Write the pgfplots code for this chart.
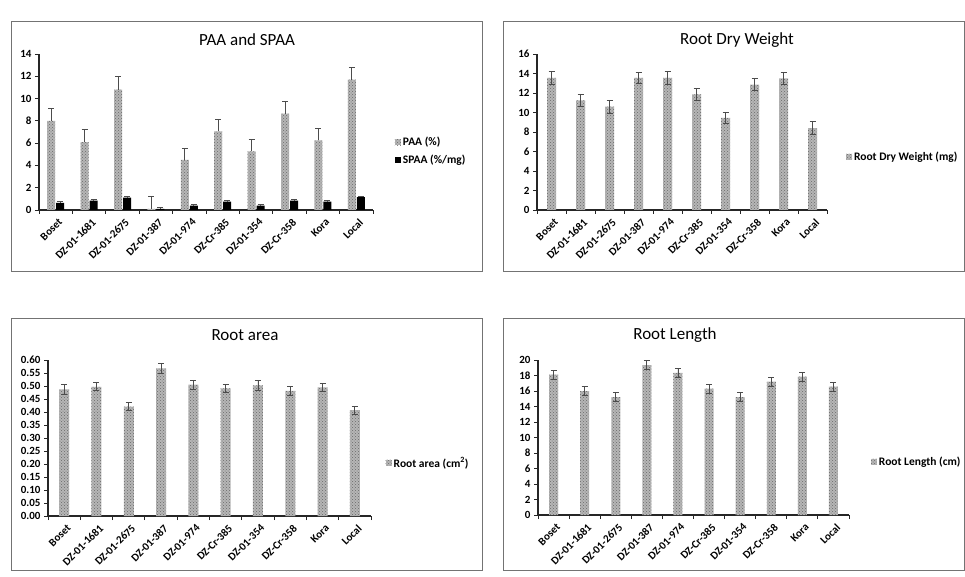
\documentclass[border=0pt]{standalone}
\usepackage{pgfplots}
\pgfplotsset{compat=1.18}
\usepackage{fontspec}
\setmainfont{Carlito}
\usetikzlibrary{patterns}
\definecolor{barg}{RGB}{182,182,182}
\definecolor{dotg}{RGB}{105,105,105}
\pgfplotsset{
  panel/.style={
    scale only axis,
    ymin=0,
    xmin=-0.5, xmax=9.5,
    axis x line*=bottom, axis y line*=left,
    axis line style={line width=1.2pt, black!85},
    tick align=outside,
    tick style={line width=0.9pt, black!85},
    major tick length=4pt,
    xtick={-0.5,0.5,...,9.5},
    xticklabels={},
    extra x ticks={0,1,...,9},
    extra x tick labels={Boset,DZ-01-1681,DZ-01-2675,DZ-01-387,DZ-01-974,DZ-Cr-385,DZ-01-354,DZ-Cr-358,Kora,Local},
    extra x tick style={tick style={draw=none}},
    x tick label style={rotate=45, anchor=north east, inner sep=1pt, yshift=-3pt},
    ticklabel style={font=\bfseries\fontsize{11}{12}\selectfont},
    /pgf/number format/assume math mode=true,
    ytick pos=left,
    legend style={draw=none, fill=none, font=\bfseries\fontsize{11.5}{13}\selectfont, anchor=west, cells={anchor=west}, row sep=4pt, inner sep=0pt},
  },
  sqlegend/.style={legend image code/.code={\fill[##1] (0pt,-3pt) rectangle (6pt,3pt);}},
  texbar/.style={fill=barg, draw=none, postaction={pattern=crosshatch dots, pattern color=dotg}},
  ebars/.style={error bars/.cd, y dir=#1, y explicit,
    error bar style={line width=0.9pt, black!70},
    error mark options={rotate=90, mark size=3pt, line width=0.9pt, black!70}},
}
\begin{document}
\begin{tikzpicture}[x=1pt,y=1pt]
\useasboundingbox (0,0) rectangle (965,576);
\fill[white] (0,0) rectangle (965,576);
\draw[black!55, line width=1pt] (11,304) rectangle (482,554);
\draw[black!55, line width=1pt] (503,304) rectangle (964.5,554);
\draw[black!55, line width=1pt] (11,6) rectangle (482,258);
\draw[black!55, line width=1pt] (503,6) rectangle (964.5,258);
\node[font=\fontsize{17}{20}\selectfont] at (247,536) {PAA and SPAA};
\node[font=\fontsize{17}{20}\selectfont] at (737,536) {Root Dry Weight};
\node[font=\fontsize{17}{20}\selectfont] at (245,241) {Root area};
\node[font=\fontsize{17}{20}\selectfont] at (675,241) {Root Length};

% Panel 1
\begin{axis}[panel, at={(39pt,366pt)}, anchor=south west, width=334pt, height=156pt,
  ymax=14, ytick={0,2,...,14}, ybar=1pt, bar width=8pt, sqlegend,
  legend style={at={(axis description cs:1.065,0.378)}}]
\addplot[texbar, ebars=plus] coordinates {
 (0,8.0) +- (0,1.1) (1,6.1) +- (0,1.1) (2,10.8) +- (0,1.15) (3,0.1) +- (0,1.15)
 (4,4.5) +- (0,1.05) (5,7.05) +- (0,1.1) (6,5.25) +- (0,1.05) (7,8.65) +- (0,1.1)
 (8,6.25) +- (0,1.1) (9,11.7) +- (0,1.1)};
\addplot[fill=black, draw=none, ebars=plus] coordinates {
 (0,0.65) +- (0,0.1) (1,0.85) +- (0,0.1) (2,1.1) +- (0,0.1) (3,0.1) +- (0,0.1)
 (4,0.4) +- (0,0.1) (5,0.75) +- (0,0.1) (6,0.4) +- (0,0.1) (7,0.85) +- (0,0.1)
 (8,0.75) +- (0,0.1) (9,1.15) +- (0,0.1)};
\legend{PAA (\%), SPAA (\%/mg)}
\end{axis}

% Panel 2
\begin{axis}[panel, at={(537pt,366pt)}, anchor=south west, width=290pt, height=156pt,
  ymax=16, ytick={0,2,...,16}, ybar, bar width=9pt, sqlegend,
  legend style={at={(axis description cs:1.065,0.34)}}]
\addplot[texbar, ebars=both] coordinates {
 (0,13.55) +- (0,0.65) (1,11.25) +- (0,0.65) (2,10.6) +- (0,0.65) (3,13.55) +- (0,0.6)
 (4,13.55) +- (0,0.65) (5,11.85) +- (0,0.65) (6,9.45) +- (0,0.6) (7,12.85) +- (0,0.6)
 (8,13.5) +- (0,0.6) (9,8.4) +- (0,0.65)};
\legend{Root Dry Weight (mg)}
\end{axis}

% Panel 3
\begin{axis}[panel, at={(48pt,60pt)}, anchor=south west, width=323pt, height=156pt,
  ymax=0.6, ytick={0,0.05,...,0.61}, ybar, bar width=10pt, sqlegend,
  yticklabel style={/pgf/number format/.cd, fixed, fixed zerofill, precision=2},
  legend style={at={(axis description cs:1.045,0.34)}}]
\addplot[texbar, ebars=both] coordinates {
 (0,0.487) +- (0,0.018) (1,0.497) +- (0,0.016) (2,0.421) +- (0,0.016) (3,0.568) +- (0,0.018)
 (4,0.505) +- (0,0.018) (5,0.491) +- (0,0.016) (6,0.502) +- (0,0.018) (7,0.481) +- (0,0.016)
 (8,0.495) +- (0,0.016) (9,0.407) +- (0,0.016)};
\legend{Root area (cm\textsuperscript{2})}
\end{axis}

% Panel 4
\begin{axis}[panel, at={(538pt,61pt)}, anchor=south west, width=311pt, height=155pt,
  ymax=20, ytick={0,2,...,20}, ybar, bar width=9pt, sqlegend,
  legend style={at={(axis description cs:1.07,0.342)}}]
\addplot[texbar, ebars=both] coordinates {
 (0,18.1) +- (0,0.6) (1,16.0) +- (0,0.6) (2,15.2) +- (0,0.6) (3,19.35) +- (0,0.6)
 (4,18.35) +- (0,0.6) (5,16.3) +- (0,0.6) (6,15.2) +- (0,0.6) (7,17.2) +- (0,0.6)
 (8,17.85) +- (0,0.6) (9,16.56) +- (0,0.6)};
\legend{Root Length (cm)}
\end{axis}
\end{tikzpicture}
\end{document}
